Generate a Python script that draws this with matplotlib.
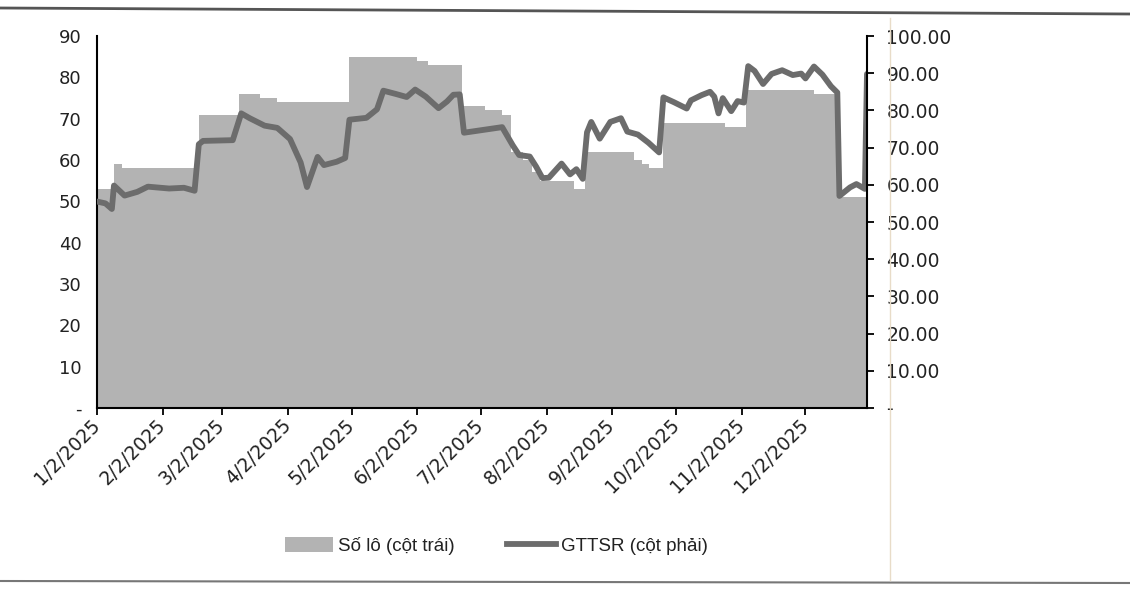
import numpy as np
import matplotlib
matplotlib.use("Agg")
import matplotlib.pyplot as plt
import matplotlib.dates as mdates
from matplotlib.ticker import FixedLocator, FuncFormatter
from matplotlib.patches import Patch
from matplotlib.lines import Line2D

plt.rcParams['font.family'] = ['Liberation Sans', 'DejaVu Sans']

# ---- Data: Số lô (left axis), step changes ----
lots_dates = ['2025-01-02', '2025-01-10', '2025-01-14', '2025-02-19', '2025-03-10',
              '2025-03-20', '2025-03-28', '2025-05-01', '2025-06-02', '2025-06-07',
              '2025-06-23', '2025-07-04', '2025-07-12', '2025-07-16', '2025-07-22',
              '2025-07-26', '2025-07-30', '2025-08-15', '2025-08-20', '2025-09-12',
              '2025-09-16', '2025-09-19', '2025-09-26', '2025-10-25', '2025-11-04',
              '2025-12-06', '2025-12-17', '2025-12-31']
lots_values = [53, 59, 58, 71, 76,
               75, 74, 85, 84, 83,
               73, 72, 71, 62, 60,
               57, 55, 53, 62, 60,
               59, 58, 69, 68, 77,
               76, 51, 51]

# ---- Data: GTTSR (right axis) ----
nav_dates = ['2025-01-02', '2025-01-06', '2025-01-09', '2025-01-10', '2025-01-15',
             '2025-01-21', '2025-01-26', '2025-02-05', '2025-02-12', '2025-02-17',
             '2025-02-19', '2025-02-21', '2025-03-07', '2025-03-11', '2025-03-15',
             '2025-03-22', '2025-03-28', '2025-04-03', '2025-04-08', '2025-04-11',
             '2025-04-16', '2025-04-19', '2025-04-25', '2025-04-29', '2025-05-01',
             '2025-05-09', '2025-05-14', '2025-05-17', '2025-05-23', '2025-05-28',
             '2025-06-01', '2025-06-06', '2025-06-12', '2025-06-16', '2025-06-19',
             '2025-06-22', '2025-06-24', '2025-06-30', '2025-07-06', '2025-07-12',
             '2025-07-17', '2025-07-20', '2025-07-25', '2025-07-28', '2025-07-31',
             '2025-08-03', '2025-08-09', '2025-08-13', '2025-08-16', '2025-08-19',
             '2025-08-21', '2025-08-23', '2025-08-27', '2025-09-01', '2025-09-06',
             '2025-09-09', '2025-09-14', '2025-09-19', '2025-09-24', '2025-09-26',
             '2025-10-01', '2025-10-07', '2025-10-09', '2025-10-14', '2025-10-18',
             '2025-10-20', '2025-10-22', '2025-10-24', '2025-10-28', '2025-10-31',
             '2025-11-03', '2025-11-05', '2025-11-08', '2025-11-12', '2025-11-16',
             '2025-11-21', '2025-11-26', '2025-11-30', '2025-12-02', '2025-12-06',
             '2025-12-10', '2025-12-14', '2025-12-17', '2025-12-18', '2025-12-23',
             '2025-12-26', '2025-12-30', '2025-12-31']
nav_values = [55.5, 55.0, 53.5, 59.8, 57.1,
              58.1, 59.5, 59.0, 59.2, 58.4,
              70.9, 71.8, 72.0, 79.2, 77.9,
              75.9, 75.3, 72.3, 66.0, 59.4,
              67.5, 65.3, 66.2, 67.2, 77.5,
              78.0, 80.3, 85.3, 84.4, 83.6,
              85.6, 83.7, 80.6, 82.4, 84.2,
              84.3, 74.0, 74.5, 75.0, 75.5,
              70.6, 68.0, 67.6, 64.9, 61.8,
              61.9, 65.7, 62.8, 64.2, 61.6,
              74.1, 76.9, 72.4, 76.9, 77.9,
              74.3, 73.5, 71.3, 68.7, 83.5,
              82.2, 80.5, 82.7, 84.1, 85.0,
              83.7, 79.2, 83.3, 79.8, 82.5,
              82.1, 91.9, 90.6, 87.1, 89.8,
              90.8, 89.5, 89.9, 88.6, 91.8,
              89.6, 86.5, 84.8, 57.0, 59.3,
              60.2, 58.9, 89.8]

tick_dates = ['2025-01-02', '2025-02-02', '2025-03-02', '2025-04-02', '2025-05-02',
              '2025-06-02', '2025-07-02', '2025-08-02', '2025-09-02', '2025-10-02',
              '2025-11-02', '2025-12-02']
tick_labels = ['1/2/2025', '2/2/2025', '3/2/2025', '4/2/2025', '5/2/2025', '6/2/2025',
               '7/2/2025', '8/2/2025', '9/2/2025', '10/2/2025', '11/2/2025', '12/2/2025']

left_ticks = [0, 10, 20, 30, 40, 50, 60, 70, 80, 90]
right_ticks = [0, 10, 20, 30, 40, 50, 60, 70, 80, 90, 100]

# ---- Figure ----
W, H = 1130, 590
fig = plt.figure(figsize=(W / 100, H / 100), dpi=100)
fig.patch.set_facecolor('white')

ax = fig.add_axes([97 / W, 1 - 408 / H, (867 - 97) / W, (408 - 36) / H])
ax2 = ax.twinx()

ld = np.array(lots_dates, dtype='datetime64[D]')
nd = np.array(nav_dates, dtype='datetime64[D]')
area_color = '#b3b3b3'
line_color = '#6c6c6c'
tick_font = ['DejaVu Sans']

ax.fill_between(ld, lots_values, 0, step='post', color=area_color, linewidth=0)
ax2.plot(nd, nav_values, color=line_color, linewidth=4.2, solid_joinstyle='round',
         solid_capstyle='round')

ax.set_xlim(np.datetime64('2025-01-02'), np.datetime64('2025-12-31'))
ax.set_ylim(0, 90)
ax2.set_ylim(0, 100)

td = mdates.date2num(np.array(tick_dates, dtype='datetime64[D]'))
ax.xaxis.set_major_locator(FixedLocator(td))
ax.set_xticklabels(tick_labels, rotation=45, ha='right', va='center',
                   rotation_mode='anchor', fontsize=13.5, color='#222222',
                   family=tick_font)
ax.tick_params(axis='x', direction='out', length=5, width=1.3, pad=5, color='black')

ax.set_yticks(left_ticks)
ax.yaxis.set_major_formatter(FuncFormatter(lambda v, p: '-' if v == 0 else f'{int(v)}'))
ax.tick_params(axis='y', length=0, pad=11, labelsize=13, labelcolor='#222222')
for t in ax.get_yticklabels():
    t.set_family(tick_font)

ax2.set_yticks(right_ticks)
ax2.yaxis.set_major_formatter(FuncFormatter(lambda v, p: '-' if v == 0 else f'{v:.2f}'))
ax2.tick_params(axis='y', direction='out', length=5, width=1.3, pad=9,
                labelsize=13.5, labelcolor='#222222')
for t in ax2.get_yticklabels():
    t.set_family(tick_font)

for a in (ax, ax2):
    a.spines['top'].set_visible(False)
    a.set_facecolor('none')
ax2.spines['left'].set_visible(False)
ax2.spines['bottom'].set_visible(False)
ax.spines['right'].set_visible(False)
ax.spines['left'].set_linewidth(1.5)
ax.spines['bottom'].set_linewidth(1.5)
ax2.spines['right'].set_linewidth(1.5)

handles = [Patch(facecolor=area_color, edgecolor='none'),
           Line2D([0], [0], color=line_color, linewidth=4.2)]
fig.legend(handles, ['Số lô (cột trái)', 'GTTSR (cột phải)'], loc='center',
           bbox_to_anchor=(496 / W, 1 - 546 / H), ncol=2, frameon=False,
           fontsize=13.5, handlelength=2.6, handleheight=0.9, columnspacing=2.8,
           handletextpad=0.25, labelcolor='#222222')

# frame lines of the scanned page
fig.add_artist(Line2D([0, 1], [1 - 8 / H, 1 - 14 / H], color='#555555', linewidth=2))
fig.add_artist(Line2D([0, 1], [1 - 581 / H, 1 - 583 / H], color='#777777', linewidth=1.5))
fig.add_artist(Line2D([890 / W, 890 / W], [1 - 18 / H, 1 - 580 / H], color='#e8dcc8',
                      linewidth=1))

fig.savefig('out.png', dpi=100)
